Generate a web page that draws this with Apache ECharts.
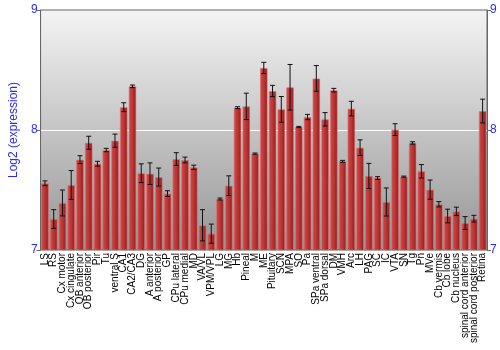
<!DOCTYPE html>
<html><head><meta charset="utf-8">
<script src="https://cdn.jsdelivr.net/npm/echarts@6/dist/echarts.min.js"></script>
<style>html,body{margin:0;padding:0;background:#fff}#c{width:500px;height:350px}</style>
</head><body><div id="c"></div>
<script>
const categories = ["LS","RS","Cx motor","Cx cingulate","OB anterior","OB posterior","Pir","Tu","ventral S","CA1","CA2/CA3","DG","A anterior","A posterior","GP","CPu lateral","CPu medial","MD","VA/VL","VPM/VPL","LG","MG","Hb","Pineal","M","ME","Pituitary","SCN","MPA","SO","Pa","SPa ventral","SPa dorsal","DM","VMH","Arc","LH","PAG","SC","IC","VTA","SN","Tg","Pn","MVe","Cb vermis","Cb lobe","Cb nucleus","spinal cord anterior","spinal cord posterior","Retina"];
const values = [7.556,7.258,7.392,7.542,7.753,7.894,7.719,7.833,7.911,8.19,8.364,7.64,7.636,7.608,7.47,7.758,7.75,7.689,7.206,7.136,7.425,7.536,8.186,8.197,7.803,8.517,8.325,8.172,8.356,8.025,8.108,8.43,8.089,8.332,7.739,8.178,7.853,7.617,7.6,7.4,8.003,7.611,7.892,7.656,7.503,7.381,7.283,7.322,7.225,7.261,8.158];
const errors = [0.02,0.078,0.108,0.12,0.033,0.054,0.02,0.014,0.055,0.037,0.011,0.078,0.09,0.075,0.024,0.053,0.024,0.018,0.13,0.08,0.008,0.082,0.008,0.11,0.005,0.047,0.047,0.107,0.19,0.005,0.022,0.107,0.056,0.015,0.008,0.061,0.065,0.105,0.011,0.117,0.049,0.005,0.01,0.056,0.08,0.022,0.057,0.035,0.053,0.028,0.099];
const yTicks = [7,8,9];

const chart = echarts.init(document.getElementById('c'));
const blue = '#2a2aff';
const errData = values.map((v,i)=>[i, v-errors[i], v+errors[i]]);
const yAxisCommon = {
  type:'value', min:yTicks[0], max:yTicks[yTicks.length-1], interval:1,
  axisLine:{show:true, lineStyle:{color:'#666'}},
  axisTick:{show:true, length:4, lineStyle:{color:'#666'}},
  axisLabel:{color:blue, fontSize:12, fontFamily:'Liberation Sans', margin:3},
};
chart.setOption({
  animation:false,
  grid:{left:28, right:13, top:10, bottom:100, show:true,
    borderColor:'#666', borderWidth:1,
    backgroundColor:new echarts.graphic.LinearGradient(0,0,0,1,[{offset:0,color:'#f4f4f4'},{offset:1,color:'#959595'}])},
  xAxis:{type:'category', data:categories,
    axisLine:{show:false}, axisTick:{show:false},
    axisLabel:{interval:0, rotate:90, fontSize:10, color:'#000', fontFamily:'Liberation Sans', margin:3}},
  yAxis:[
    Object.assign({}, yAxisCommon, {position:'left', name:'Log2 (expression)', nameLocation:'middle', nameGap:18,
      nameTextStyle:{color:blue, fontSize:12, fontFamily:'Liberation Sans'},
      splitLine:{show:true, lineStyle:{color:['transparent','#ffffff','transparent'], width:1}}}),
    Object.assign({}, yAxisCommon, {position:'right', splitLine:{show:false}})
  ],
  series:[
    {type:'bar', data:values, barCategoryGap:'12%',
      itemStyle:{color:new echarts.graphic.LinearGradient(0,0,1,0,[{offset:0,color:'#d24c4c'},{offset:0.5,color:'#bb3535'},{offset:1,color:'#8e1d1d'}]),
        borderColor:'rgba(220,110,110,0.6)', borderWidth:1}},
    {type:'custom', data:errData, z:10,
      renderItem:function(params, api){
        const x = api.value(0);
        const lo = api.coord([x, api.value(1)]);
        const hi = api.coord([x, api.value(2)]);
        const w = 2.5;
        const st = {stroke:'#111', lineWidth:1};
        return {type:'group', children:[
          {type:'line', shape:{x1:lo[0], y1:lo[1], x2:hi[0], y2:hi[1]}, style:st},
          {type:'line', shape:{x1:lo[0]-w, y1:lo[1], x2:lo[0]+w, y2:lo[1]}, style:st},
          {type:'line', shape:{x1:hi[0]-w, y1:hi[1], x2:hi[0]+w, y2:hi[1]}, style:st}
        ]};
      }}
  ]
});
</script></body></html>
